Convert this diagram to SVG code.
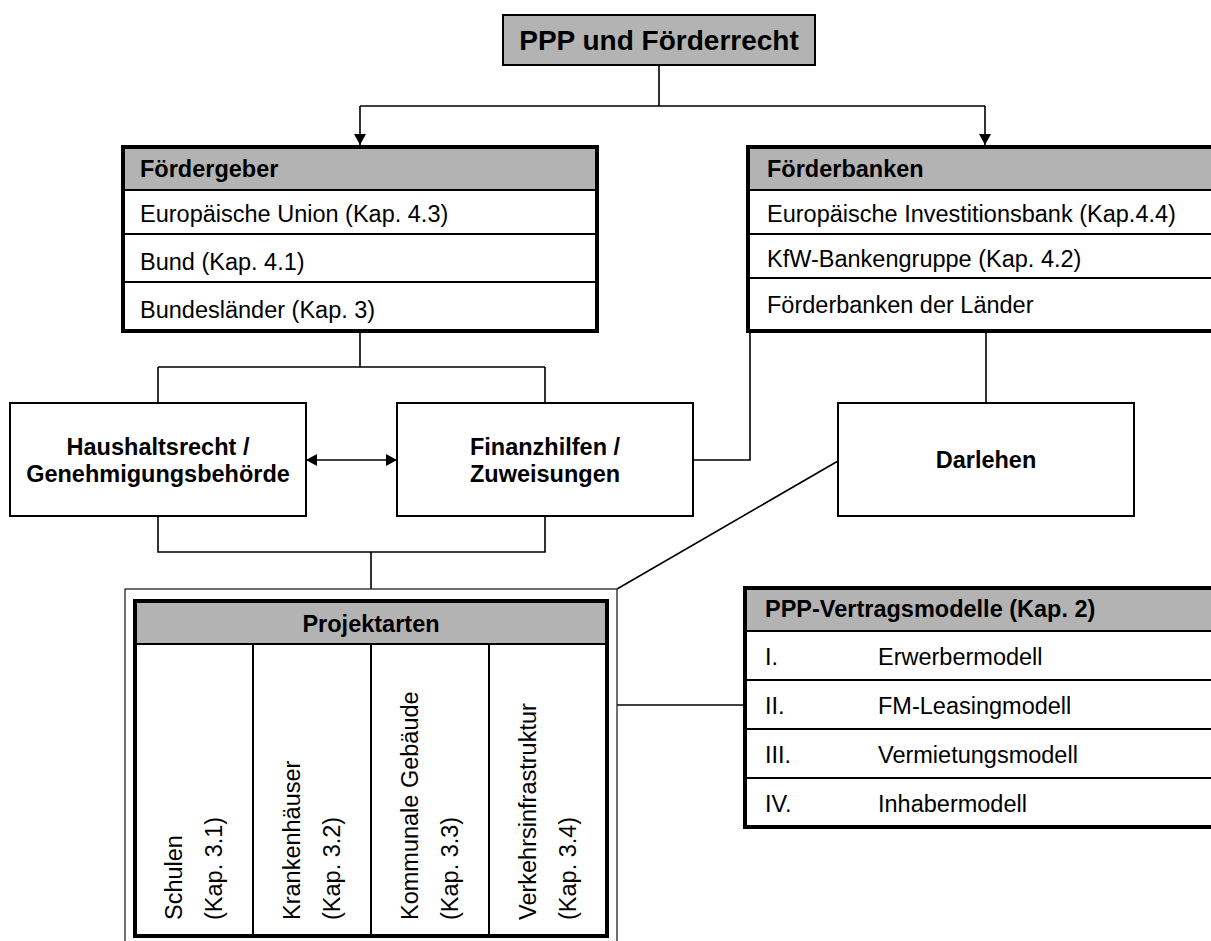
<svg xmlns="http://www.w3.org/2000/svg" width="1211" height="941" viewBox="0 0 1211 941">
<style>
.t{font-family:"Liberation Sans",Arial,sans-serif;font-size:23.5px;fill:#000}
.b{font-weight:bold}
.m{text-anchor:middle}
.hdr{fill:#b3b3b3}
.box{fill:#fff;stroke:#000;stroke-width:2}
.thick{fill:none;stroke:#000;stroke-width:4}
.div{stroke:#000;stroke-width:2}
.con{fill:none;stroke:#000;stroke-width:1.6}
</style>
<defs>
<marker id="arr" markerUnits="userSpaceOnUse" markerWidth="12" markerHeight="12" refX="11" refY="6" orient="auto-start-reverse">
<path d="M0,0 L11,6 L0,12 z" fill="#000"/>
</marker>
</defs>
<rect width="1211" height="941" fill="#fff"/>

<g id="connectors">
<path class="con" d="M659,65 V106 M360,106 H985"/>
<path class="con" d="M360,106 V145" marker-end="url(#arr)"/>
<path class="con" d="M985,106 V145" marker-end="url(#arr)"/>
<path class="con" d="M360,331 V367 M158,367 H545 M158,367 V403 M545,367 V403"/>
<path class="con" d="M306,460 H397" marker-start="url(#arr)" marker-end="url(#arr)"/>
<path class="con" d="M158,516 V552 H545 V516 M371,552 V589"/>
<path class="con" d="M693,460 H750 V331"/>
<path class="con" d="M986,331 V403"/>
<path class="con" d="M838,461 L617,589"/>
<path class="con" d="M617,705 H745"/>
</g>

<g id="title">
<rect x="503" y="15" width="312" height="50" class="hdr" stroke="#000" stroke-width="2"/>
<text x="659" y="50" class="t b m" style="font-size:28px">PPP und Förderrecht</text>
</g>

<g id="foerdergeber">
<rect x="123" y="147" width="474" height="184" fill="#fff"/>
<rect x="123" y="147" width="474" height="43" class="hdr"/>
<path class="div" d="M123,190 H597 M123,234 H597 M123,282 H597"/>
<rect x="123" y="147" width="474" height="184" class="thick"/>
<text x="140" y="177" class="t b">Fördergeber</text>
<text x="140" y="222" class="t">Europäische Union (Kap. 4.3)</text>
<text x="140" y="270" class="t">Bund (Kap. 4.1)</text>
<text x="140" y="318" class="t">Bundesländer (Kap. 3)</text>
</g>

<g id="foerderbanken">
<rect x="748" y="147" width="474" height="184" fill="#fff"/>
<rect x="748" y="147" width="474" height="43" class="hdr"/>
<path class="div" d="M748,190 H1222 M748,234 H1222 M748,278 H1222"/>
<rect x="748" y="147" width="474" height="184" class="thick"/>
<text x="767" y="177" class="t b">Förderbanken</text>
<text x="767" y="222" class="t">Europäische Investitionsbank (Kap.4.4)</text>
<text x="767" y="267" class="t">KfW-Bankengruppe (Kap. 4.2)</text>
<text x="767" y="313" class="t">Förderbanken der Länder</text>
</g>

<g id="haushaltsrecht">
<rect x="10" y="403" width="296" height="113" class="box"/>
<text x="158" y="455" class="t b m">Haushaltsrecht /</text>
<text x="158" y="482" class="t b m">Genehmigungsbehörde</text>
</g>

<g id="finanzhilfen">
<rect x="397" y="403" width="296" height="113" class="box"/>
<text x="545" y="455" class="t b m">Finanzhilfen /</text>
<text x="545" y="482" class="t b m">Zuweisungen</text>
</g>

<g id="darlehen">
<rect x="838" y="403" width="296" height="113" class="box"/>
<text x="986" y="468" class="t b m">Darlehen</text>
</g>

<g id="projektarten">
<rect x="125" y="589" width="492" height="370" fill="#fff" stroke="#222" stroke-width="1.3"/>
<rect x="135" y="601" width="472" height="43" class="hdr"/>
<path class="div" d="M135,644 H607 M253,644 V936 M371,644 V936 M489,644 V936"/>
<rect x="135" y="601" width="472" height="335" class="thick"/>
<text x="371" y="632" class="t b m">Projektarten</text>
<text transform="translate(182,920) rotate(-90)" class="t">Schulen</text>
<text transform="translate(222,920) rotate(-90)" class="t">(Kap. 3.1)</text>
<text transform="translate(300,920) rotate(-90)" class="t">Krankenhäuser</text>
<text transform="translate(340,920) rotate(-90)" class="t">(Kap. 3.2)</text>
<text transform="translate(418,920) rotate(-90)" class="t">Kommunale Gebäude</text>
<text transform="translate(458,920) rotate(-90)" class="t">(Kap. 3.3)</text>
<text transform="translate(536,920) rotate(-90)" class="t">Verkehrsinfrastruktur</text>
<text transform="translate(576,920) rotate(-90)" class="t">(Kap. 3.4)</text>
</g>

<g id="vertragsmodelle">
<rect x="745" y="588" width="480" height="239" fill="#fff"/>
<rect x="745" y="588" width="480" height="43" class="hdr"/>
<path class="div" d="M745,631 H1225 M745,680 H1225 M745,729 H1225 M745,778 H1225"/>
<rect x="745" y="588" width="480" height="239" class="thick"/>
<text x="765" y="617" class="t b">PPP-Vertragsmodelle (Kap. 2)</text>
<text x="765" y="665" class="t">I.</text>
<text x="878" y="665" class="t">Erwerbermodell</text>
<text x="765" y="714" class="t">II.</text>
<text x="878" y="714" class="t">FM-Leasingmodell</text>
<text x="765" y="763" class="t">III.</text>
<text x="878" y="763" class="t">Vermietungsmodell</text>
<text x="765" y="812" class="t">IV.</text>
<text x="878" y="812" class="t">Inhabermodell</text>
</g>
</svg>
